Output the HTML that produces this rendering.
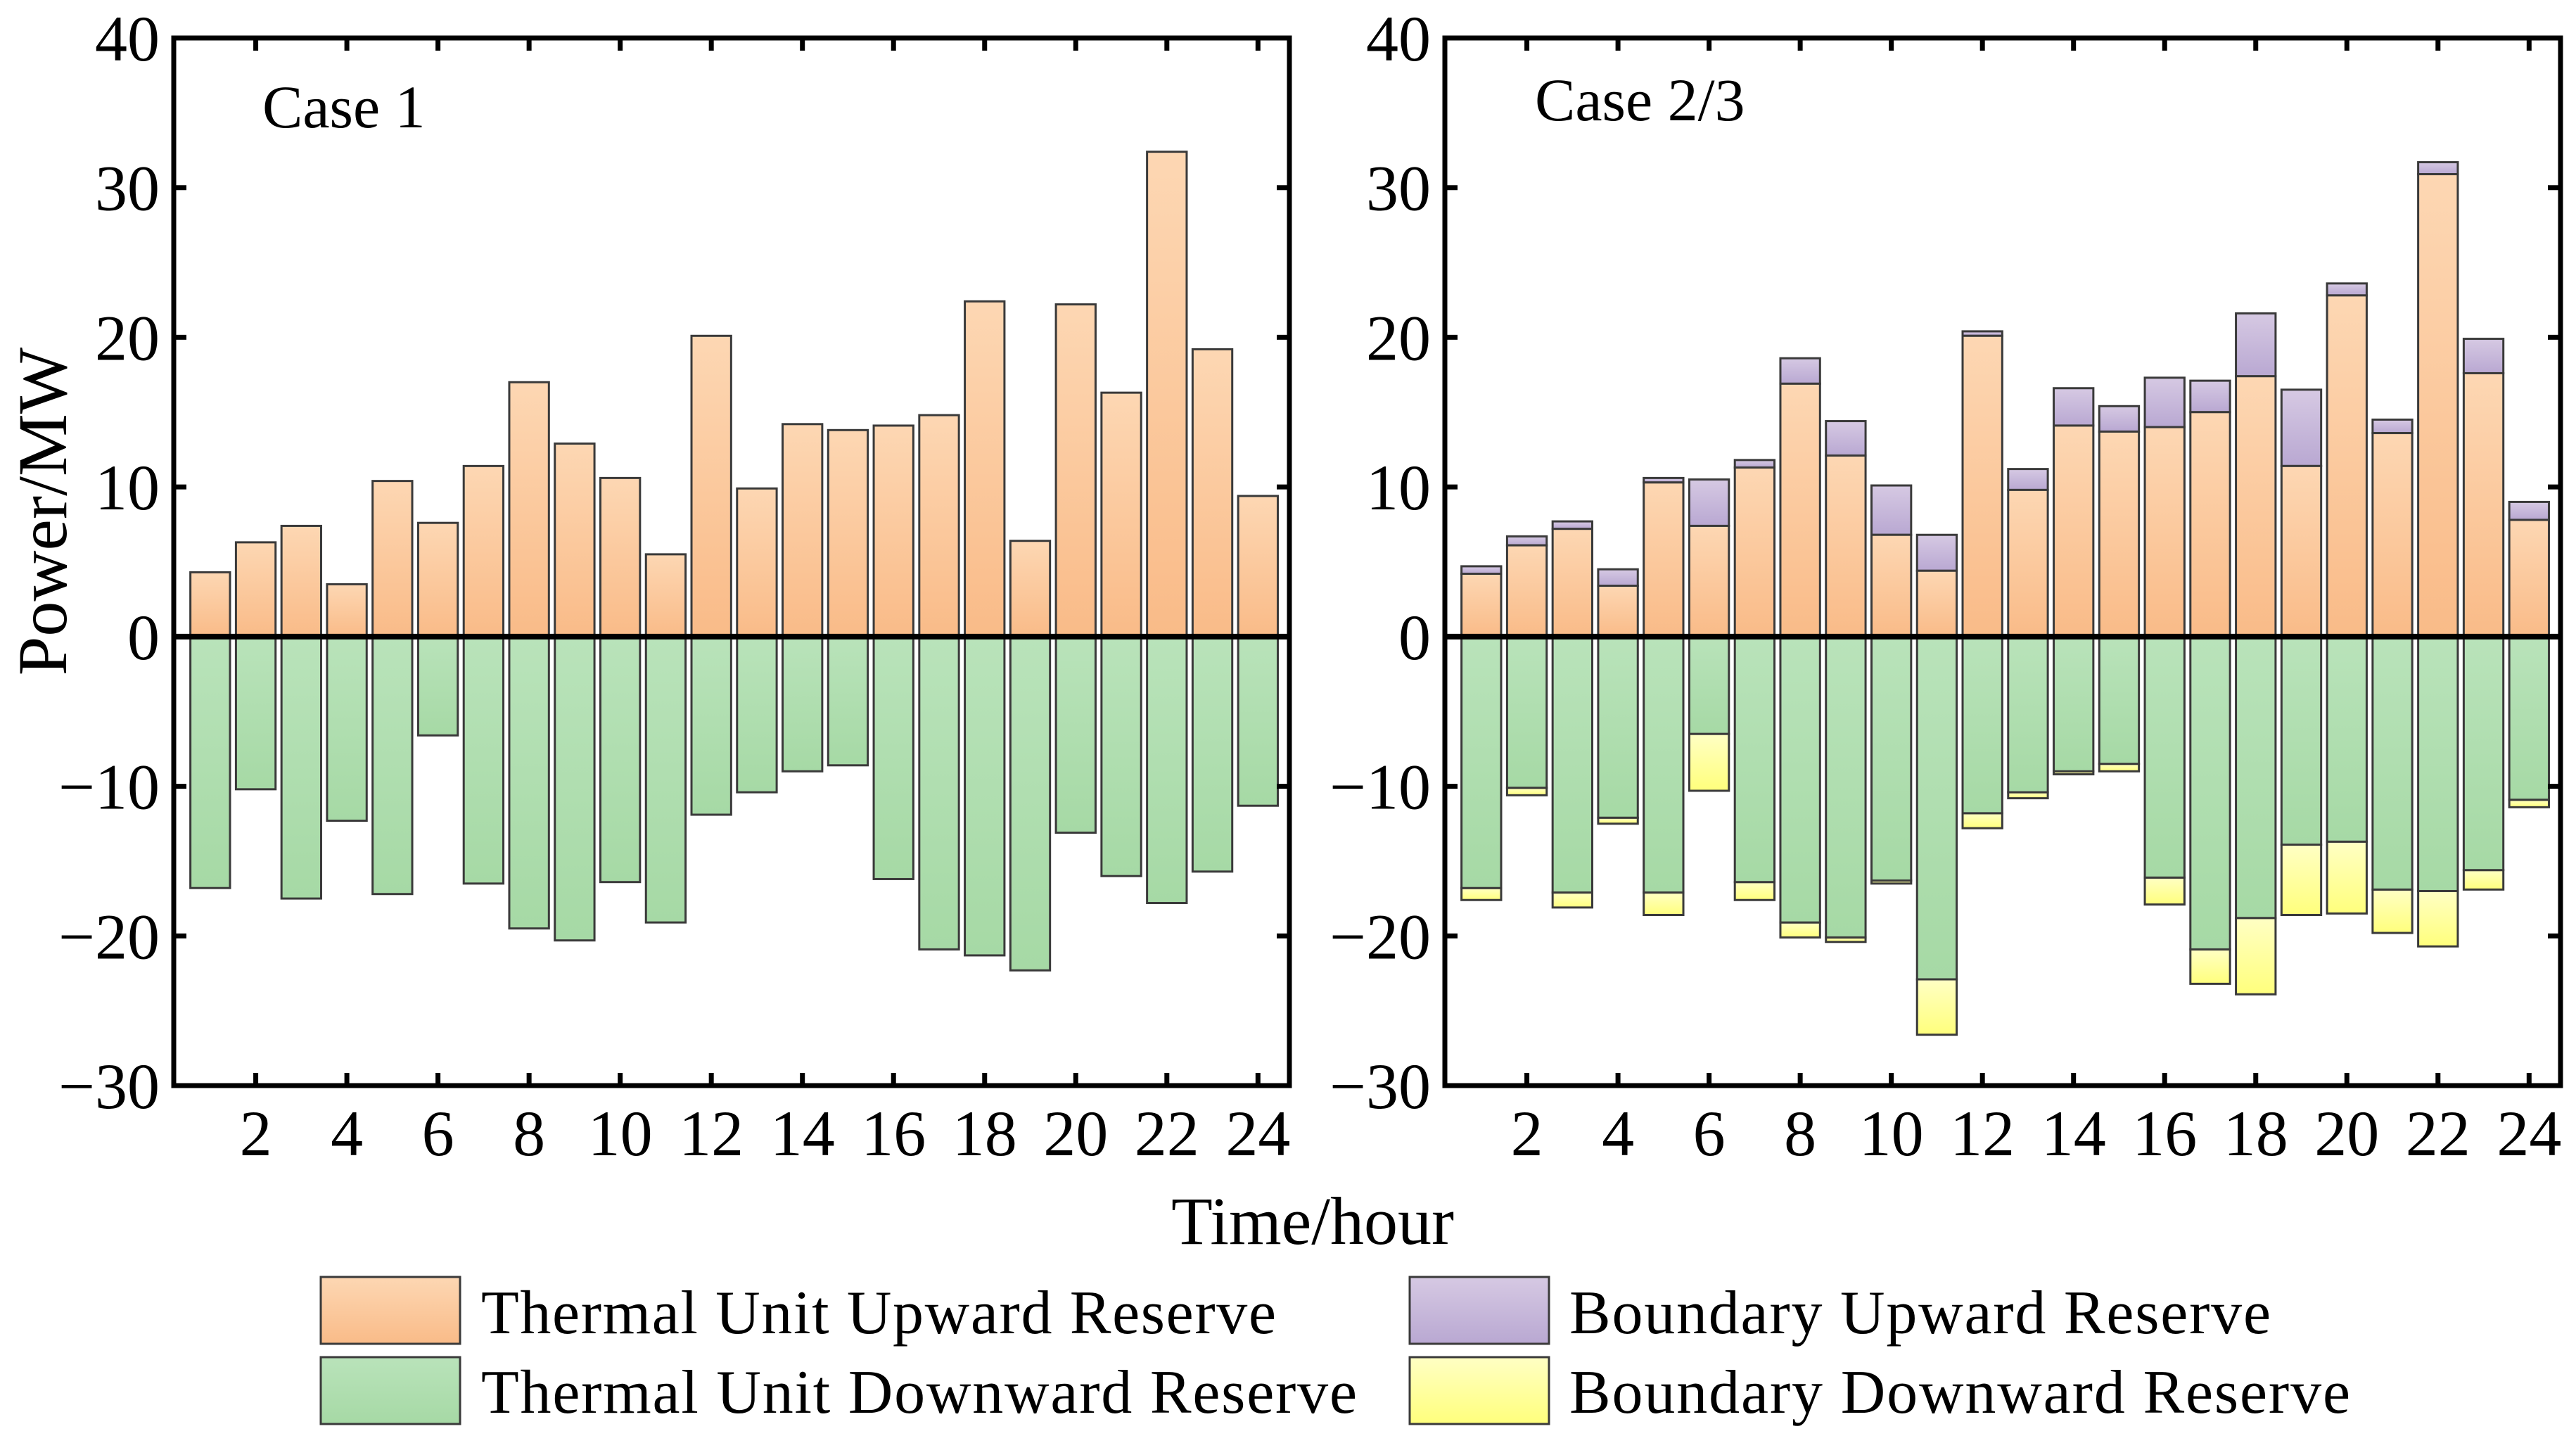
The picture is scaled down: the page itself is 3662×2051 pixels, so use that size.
<!DOCTYPE html>
<html><head><meta charset="utf-8"><style>
html,body{margin:0;padding:0;background:#fff;}
svg{display:block;}
text{font-family:"Liberation Serif",serif;fill:#000;}
</style></head><body>
<svg id="chart" width="3662" height="2051" viewBox="0 0 3662 2051">
<defs>
<linearGradient id="gOr" x1="0" y1="0" x2="0" y2="1"><stop offset="0" stop-color="#fdd7b3"/><stop offset="1" stop-color="#f9bb88"/></linearGradient>
<linearGradient id="gGr" x1="0" y1="0" x2="0" y2="1"><stop offset="0" stop-color="#b9e3ba"/><stop offset="1" stop-color="#a6d9a5"/></linearGradient>
<linearGradient id="gPu" x1="0" y1="0" x2="0" y2="1"><stop offset="0" stop-color="#d6c9e3"/><stop offset="1" stop-color="#b9a8d2"/></linearGradient>
<linearGradient id="gYe" x1="0" y1="0" x2="0" y2="1"><stop offset="0" stop-color="#ffffc4"/><stop offset="1" stop-color="#ffff7c"/></linearGradient>
</defs>
<g id="p1"></g>
<g id="p2"></g>
<text x="1866" y="1768" font-size="96" text-anchor="middle">Time/hour</text>
<text transform="translate(94,727) rotate(-90)" font-size="100" text-anchor="middle">Power/MW</text>
<g>
<rect x="456" y="1815" width="198" height="95" fill="url(#gOr)" stroke="#3a3a3a" stroke-width="3"/>
<text x="684" y="1895" font-size="88" textLength="1130">Thermal Unit Upward Reserve</text>
<rect x="456" y="1929" width="198" height="95" fill="url(#gGr)" stroke="#3a3a3a" stroke-width="3"/>
<text x="684" y="2008" font-size="88" textLength="1245">Thermal Unit Downward Reserve</text>
<rect x="2004" y="1815" width="198" height="95" fill="url(#gPu)" stroke="#3a3a3a" stroke-width="3"/>
<text x="2231" y="1895" font-size="88" textLength="997">Boundary Upward Reserve</text>
<rect x="2004" y="1929" width="198" height="95" fill="url(#gYe)" stroke="#3a3a3a" stroke-width="3"/>
<text x="2231" y="2008" font-size="88" textLength="1110">Boundary Downward Reserve</text>
</g>
</svg>
<script>
const hours = [1,2,3,4,5,6,7,8,9,10,11,12,13,14,15,16,17,18,19,20,21,22,23,24];
const yTicks = [-30,-20,-10,0,10,20,30,40];
const xTicks = [2,4,6,8,10,12,14,16,18,20,22,24];
const case1Up = [4.3,6.3,7.4,3.5,10.4,7.6,11.4,17,12.9,10.6,5.5,20.1,9.9,14.2,13.8,14.1,14.8,22.4,6.4,22.2,16.3,32.4,19.2,9.4];
const case1Down = [-16.8,-10.2,-17.5,-12.3,-17.2,-6.6,-16.5,-19.5,-20.3,-16.4,-19.1,-11.9,-10.4,-9.0,-8.6,-16.2,-20.9,-21.3,-22.3,-13.1,-16.0,-17.8,-15.7,-11.3];
const case2Up = [4.2,6.1,7.2,3.4,10.3,7.4,11.3,16.9,12.1,6.8,4.4,20.1,9.8,14.1,13.7,14.0,15.0,17.4,11.4,22.8,13.6,30.9,17.6,7.8];
const case2UpTotal = [4.7,6.7,7.7,4.5,10.6,10.5,11.8,18.6,14.4,10.1,6.8,20.4,11.2,16.6,15.4,17.3,17.1,21.6,16.5,23.6,14.5,31.7,19.9,9.0];
const case2Down = [-16.8,-10.1,-17.1,-12.1,-17.1,-6.5,-16.4,-19.1,-20.1,-16.3,-22.9,-11.8,-10.4,-9.0,-8.5,-16.1,-20.9,-18.8,-13.9,-13.7,-16.9,-17.0,-15.6,-10.9];
const case2DownTotal = [-17.6,-10.6,-18.1,-12.5,-18.6,-10.3,-17.6,-20.1,-20.4,-16.5,-26.6,-12.8,-10.8,-9.2,-9.0,-17.9,-23.2,-23.9,-18.6,-18.5,-19.8,-20.7,-16.9,-11.4];

const NS='http://www.w3.org/2000/svg';
function mk(parent,tag,attrs){const e=document.createElementNS(NS,tag);for(const k in attrs)e.setAttribute(k,attrs[k]);parent.appendChild(e);return e;}
const plotTop=54,plotBot=1543,yMin=-30,yMax=40,xMin=0.2,xMax=24.69,bw=0.87;

function panel(g,L,R,label,labelX,labelY,series){
  const sx=v=>L+(v-xMin)/(xMax-xMin)*(R-L);
  const sy=v=>plotBot-(v-yMin)/(yMax-yMin)*(plotBot-plotTop);
  series.forEach(s=>{
    hours.forEach((h,i)=>{
      const a=s.from?s.from[i]:0, b=s.vals[i];
      const y1=sy(Math.max(a,b)), y2=sy(Math.min(a,b));
      const r=mk(g,'rect',{x:sx(h-bw/2),y:y1,width:sx(h+bw/2)-sx(h-bw/2),height:Math.max(0.5,y2-y1),fill:s.fill,stroke:'#3a3a3a','stroke-width':3});
      
      
    });
  });
  const z=mk(g,'line',{x1:L,x2:R,y1:sy(0),y2:sy(0),stroke:'#000','stroke-width':8});
  
  
  yTicks.forEach(t=>{
    const y=sy(t);
    mk(g,'line',{x1:L,x2:L+18,y1:y,y2:y,stroke:'#000','stroke-width':7});
    mk(g,'line',{x1:R,x2:R-18,y1:y,y2:y,stroke:'#000','stroke-width':7});
    const tx=mk(g,'text',{x:L-20,y:y+32,'font-size':92,'text-anchor':'end'});
    tx.textContent=(t<0?'\u2212':'')+Math.abs(t);
    
    
  });
  xTicks.forEach(t=>{
    const x=sx(t);
    mk(g,'line',{x1:x,x2:x,y1:plotBot,y2:plotBot-18,stroke:'#000','stroke-width':7});
    mk(g,'line',{x1:x,x2:x,y1:plotTop,y2:plotTop+18,stroke:'#000','stroke-width':7});
    const tx=mk(g,'text',{x:x,y:1642,'font-size':92,'text-anchor':'middle'});
    tx.textContent=t;
    
    
  });
  const f=mk(g,'rect',{x:L,y:plotTop,width:R-L,height:plotBot-plotTop,fill:'none',stroke:'#000','stroke-width':7});
  
  
  const c=mk(g,'text',{x:labelX,y:labelY,'font-size':86});
  c.textContent=label;
  
  
}
panel(document.getElementById('p1'),247,1833,'Case 1',373,181,[
  {name:'thermal-up',vals:case1Up,fill:'url(#gOr)'},
  {name:'thermal-down',vals:case1Down,fill:'url(#gGr)'}
]);
panel(document.getElementById('p2'),2054,3640,'Case 2/3',2182,171,[
  {name:'boundary-up',vals:case2UpTotal,from:case2Up,fill:'url(#gPu)'},
  {name:'thermal-up',vals:case2Up,fill:'url(#gOr)'},
  {name:'boundary-down',vals:case2DownTotal,from:case2Down,fill:'url(#gYe)'},
  {name:'thermal-down',vals:case2Down,fill:'url(#gGr)'}
]);
</script>
</body></html>
